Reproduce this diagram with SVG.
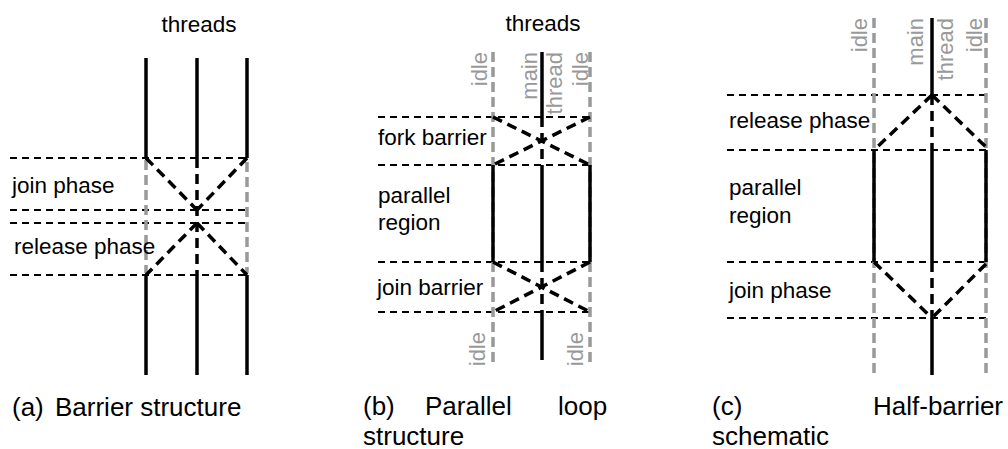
<svg xmlns="http://www.w3.org/2000/svg" width="1008" height="449" viewBox="0 0 1008 449">
<style>
text{font-family:"Liberation Sans",Arial,sans-serif;fill:#000}
.lbl{font-size:22.5px}
.cap{font-size:26px}
.rot{font-size:22px;fill:#999;text-anchor:end}
.solid{stroke:#000;stroke-width:3.5;fill:none}
.tdash{stroke:#000;stroke-width:3.5;stroke-dasharray:10 6;fill:none}
.gdash{stroke:#999;stroke-width:3.5;stroke-dasharray:10 5;fill:none}
.hdash{stroke:#000;stroke-width:1.8;stroke-dasharray:7 5;fill:none}
</style>
<rect width="1008" height="449" fill="#fff"/>

<g id="panel-a">
  <text class="lbl" x="199" y="32" text-anchor="middle">threads</text>
  <g id="a-guides">
    <line class="hdash" x1="10" y1="158" x2="247" y2="158"/>
    <line class="hdash" x1="10" y1="210" x2="247" y2="210"/>
    <line class="hdash" x1="10" y1="223" x2="247" y2="223"/>
    <line class="hdash" x1="10" y1="275" x2="247" y2="275"/>
  </g>
  <g id="a-threads">
    <line class="solid" x1="146" y1="58" x2="146" y2="158"/>
    <line class="solid" x1="197" y1="58" x2="197" y2="158"/>
    <line class="solid" x1="247" y1="58" x2="247" y2="158"/>
    <line class="gdash" x1="146" y1="160" x2="146" y2="273"/>
    <line class="gdash" x1="247" y1="162" x2="247" y2="273"/>
    <line class="tdash" x1="197" y1="158" x2="197" y2="275"/>
    <line class="solid" x1="146" y1="275" x2="146" y2="375"/>
    <line class="solid" x1="197" y1="275" x2="197" y2="375"/>
    <line class="solid" x1="247" y1="275" x2="247" y2="375"/>
  </g>
  <g id="a-connectors">
    <line class="tdash" x1="146" y1="158" x2="197" y2="210"/>
    <line class="tdash" x1="247" y1="158" x2="197" y2="210"/>
    <line class="tdash" x1="197" y1="223" x2="146" y2="275"/>
    <line class="tdash" x1="197" y1="223" x2="247" y2="275"/>
  </g>
  <text class="lbl" x="12" y="193">join phase</text>
  <text class="lbl" x="14" y="254">release phase</text>
  <text class="cap" x="12" y="416">(a)</text>
  <text class="cap" x="55" y="416">Barrier structure</text>
</g>

<g id="panel-b">
  <text class="lbl" x="543" y="31" text-anchor="middle">threads</text>
  <g id="b-guides">
    <line class="hdash" x1="378" y1="117" x2="590" y2="117"/>
    <line class="hdash" x1="378" y1="165" x2="590" y2="165"/>
    <line class="hdash" x1="378" y1="262" x2="590" y2="262"/>
    <line class="hdash" x1="378" y1="312" x2="590" y2="312"/>
  </g>
  <g id="b-threads">
    <line class="gdash" x1="493" y1="52" x2="493" y2="362"/>
    <line class="gdash" x1="590" y1="52" x2="590" y2="362"/>
    <line class="solid" x1="542" y1="52" x2="542" y2="117"/>
    <line class="tdash" x1="542" y1="117" x2="542" y2="165"/>
    <line class="solid" x1="542" y1="165" x2="542" y2="262"/>
    <line class="tdash" x1="542" y1="262" x2="542" y2="312"/>
    <line class="solid" x1="542" y1="312" x2="542" y2="360"/>
    <line class="solid" x1="493" y1="165" x2="493" y2="262"/>
    <line class="solid" x1="590" y1="165" x2="590" y2="262"/>
  </g>
  <g id="b-connectors">
    <line class="tdash" x1="493" y1="117" x2="590" y2="165"/>
    <line class="tdash" x1="590" y1="117" x2="493" y2="165"/>
    <line class="tdash" x1="493" y1="262" x2="590" y2="312"/>
    <line class="tdash" x1="590" y1="262" x2="493" y2="312"/>
  </g>
  <text class="rot" transform="translate(487,52) rotate(-90)">idle</text>
  <text class="rot" transform="translate(537,52) rotate(-90)">main</text>
  <text class="rot" transform="translate(562,52) rotate(-90)">thread</text>
  <text class="rot" transform="translate(588,52) rotate(-90)">idle</text>
  <text class="rot" transform="translate(485,332) rotate(-90)">idle</text>
  <text class="rot" transform="translate(583,332) rotate(-90)">idle</text>
  <text class="lbl" x="378" y="145">fork barrier</text>
  <text class="lbl" x="378" y="203">parallel</text>
  <text class="lbl" x="378" y="230">region</text>
  <text class="lbl" x="377" y="295">join barrier</text>
  <text class="cap" x="363" y="415">(b)</text>
  <text class="cap" x="425" y="415">Parallel</text>
  <text class="cap" x="558" y="415">loop</text>
  <text class="cap" x="363" y="445">structure</text>
</g>

<g id="panel-c">
  <g id="c-guides">
    <line class="hdash" x1="727" y1="95" x2="986" y2="95"/>
    <line class="hdash" x1="727" y1="150" x2="986" y2="150"/>
    <line class="hdash" x1="727" y1="262" x2="986" y2="262"/>
    <line class="hdash" x1="727" y1="318" x2="986" y2="318"/>
  </g>
  <g id="c-threads">
    <line class="gdash" x1="874" y1="18" x2="874" y2="376"/>
    <line class="gdash" x1="986" y1="18" x2="986" y2="376"/>
    <line class="solid" x1="932" y1="18" x2="932" y2="95"/>
    <line class="tdash" x1="932" y1="95" x2="932" y2="150"/>
    <line class="solid" x1="932" y1="150" x2="932" y2="262"/>
    <line class="tdash" x1="932" y1="262" x2="932" y2="318"/>
    <line class="solid" x1="932" y1="318" x2="932" y2="375"/>
    <line class="solid" x1="874" y1="150" x2="874" y2="262"/>
    <line class="solid" x1="986" y1="150" x2="986" y2="262"/>
  </g>
  <g id="c-connectors">
    <line class="tdash" x1="932" y1="95" x2="874" y2="150"/>
    <line class="tdash" x1="932" y1="95" x2="986" y2="147"/>
    <line class="tdash" x1="874" y1="262" x2="932" y2="318"/>
    <line class="tdash" x1="986" y1="264" x2="932" y2="318"/>
  </g>
  <text class="rot" transform="translate(867,18) rotate(-90)">idle</text>
  <text class="rot" transform="translate(923,18) rotate(-90)">main</text>
  <text class="rot" transform="translate(953,18) rotate(-90)">thread</text>
  <text class="rot" transform="translate(982,18) rotate(-90)">idle</text>
  <text class="lbl" x="729" y="128">release phase</text>
  <text class="lbl" x="729" y="195">parallel</text>
  <text class="lbl" x="729" y="223">region</text>
  <text class="lbl" x="729" y="298">join phase</text>
  <text class="cap" x="712" y="415">(c)</text>
  <text class="cap" x="873" y="415">Half-barrier</text>
  <text class="cap" x="712" y="445">schematic</text>
</g>
</svg>
